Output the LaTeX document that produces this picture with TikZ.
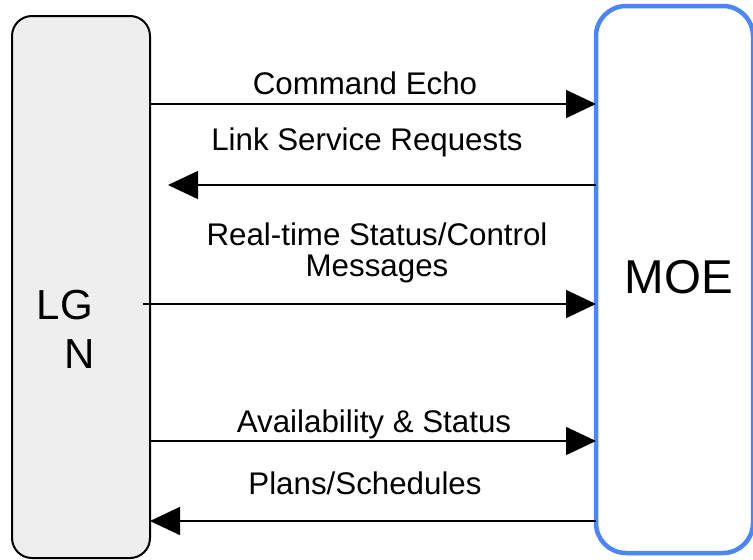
\documentclass[tikz,border=0pt]{standalone}
\usepackage{fontspec}
\setmainfont{Liberation Sans}
\usetikzlibrary{arrows.meta}
\definecolor{moeblue}{RGB}{74,134,247}
\definecolor{lgnfill}{RGB}{238,238,238}
\begin{document}
\begin{tikzpicture}[x=1pt,y=-1pt,
  unit/.style={draw, rounded corners=#1, outer sep=0pt, inner sep=0pt},
  flow/.style={line width=1.5pt, -{Triangle[length=30pt,width=28pt]}},
  lbl/.style={font=\fontsize{31.3}{31}\selectfont, anchor=base, inner sep=0pt, align=center},
  big/.style={inner sep=0pt, anchor=base}]
\useasboundingbox (0,0) rectangle (753,560);

% the two units
\node[unit=20pt, fill=lgnfill, line width=2pt, minimum width=138pt, minimum height=542pt] (lgn) at (81,287) {};
\node[unit=30pt, draw=moeblue, line width=4.5pt, minimum width=157pt, minimum height=547pt] (moe) at (674.5,279.5) {};

\node[big, font=\fontsize{42}{42}\selectfont] (lgtext) at (65,319) {LG};
\node[big, font=\fontsize{42}{42}\selectfont] (ntext) at (80,368) {N};
\node[big, font=\fontsize{47.5}{47.5}\selectfont] (moetext) at (679,293) {MOE};

% message levels
\coordinate (r1) at (0,104);
\coordinate (a2) at (168,185);
\coordinate (a3) at (143,304);
\coordinate (r4) at (0,441);
\coordinate (r5) at (0,521);

\draw[flow] (lgn.east |- r1) -- (moe.west |- r1);
\draw[flow] (moe.west |- a2) -- (a2);
\draw[flow] (a3) -- (moe.west |- a3);
\draw[flow] (lgn.east |- r4) -- (moe.west |- r4);
\draw[flow] (moe.west |- r5) -- (lgn.east |- r5);

% message labels (base anchor of the two-line label sits on its last line)
\node[lbl] (l1) at (365,94) {Command Echo};
\node[lbl] (l2) at (367,150) {Link Service Requests};
\node[lbl] (l3) at (377,276) {Real-time Status/Control\\Messages};
\node[lbl] (l4) at (374,432) {Availability \& Status};
\node[lbl] (l5) at (365,494) {Plans/Schedules};
\end{tikzpicture}
\end{document}
